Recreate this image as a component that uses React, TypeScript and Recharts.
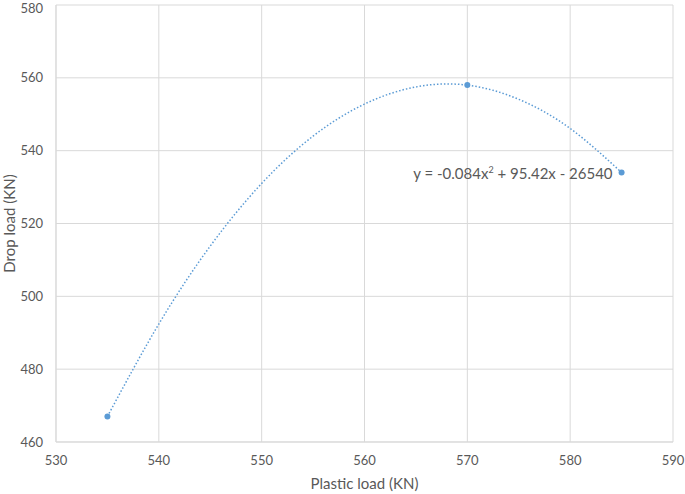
import {
  ComposedChart,
  Scatter,
  Line,
  XAxis,
  YAxis,
  CartesianGrid,
  ReferenceDot,
  Label,
} from 'recharts';

// measured points
const plasticLoad = [535, 570, 585];
const dropLoad = [467, 558, 534];

// dotted polynomial trendline, every 5 KN
const trendX = [535, 540, 545, 550, 555, 560, 565, 570, 575, 580, 585];
const trendY = [467, 492.4, 513.8, 531, 544, 552.8, 557.5, 558, 554.1, 546.1, 534];

const xTicks = [530, 540, 550, 560, 570, 580, 590];
const yTicks = [460, 480, 500, 520, 540, 560, 580];

const EQUATION = ['y = -0.084x', '2', ' + 95.42x - 26540'];

const FONT = 'Lato, "Open Sans", sans-serif';
const TEXT = '#595959';
const GRID = '#d9d9d9';
const BLUE = '#5b9bd5';

const points = plasticLoad.map((x, i) => ({ x, y: dropLoad[i] }));
const trend = trendX.map((x, i) => ({ x, y: trendY[i] }));

export default function App() {
  return (
    <div style={{ position: 'absolute', left: 0, top: 0, background: '#fff' }}>
      <ComposedChart
        width={685}
        height={494}
        margin={{ top: 5, right: 12, bottom: 0, left: 0 }}
      >
        <CartesianGrid stroke={GRID} horizontalValues={yTicks} verticalValues={xTicks} />
        <XAxis
          type="number"
          dataKey="x"
          domain={[530, 590]}
          ticks={xTicks}
          height={52}
          tickLine={false}
          tickSize={0}
          tickMargin={14}
          axisLine={{ stroke: GRID }}
          tick={{ fill: TEXT, fontSize: 13, fontFamily: FONT }}
        >
          <Label
            content={({ viewBox }: any) => (
              <text
                x={viewBox.x + viewBox.width / 2}
                y={489}
                textAnchor="middle"
                fill={TEXT}
                fontSize={15}
                fontFamily={FONT}
              >
                Plastic load (KN)
              </text>
            )}
          />
        </XAxis>
        <YAxis
          type="number"
          dataKey="y"
          domain={[460, 580]}
          ticks={yTicks}
          width={56}
          tickLine={false}
          tickSize={0}
          tickMargin={13}
          axisLine={{ stroke: GRID }}
          tick={{ fill: TEXT, fontSize: 13, fontFamily: FONT }}
        >
          <Label
            content={({ viewBox }: any) => {
              const cy = viewBox.y + viewBox.height / 2;
              return (
                <text
                  x={15}
                  y={cy}
                  transform={`rotate(-90 15 ${cy})`}
                  textAnchor="middle"
                  fill={TEXT}
                  fontSize={15}
                  fontFamily={FONT}
                >
                  Drop load (KN)
                </text>
              );
            }}
          />
        </YAxis>
        <Line
          data={trend}
          dataKey="y"
          type="natural"
          stroke={BLUE}
          strokeWidth={1.5}
          strokeDasharray="1.5 2"
          dot={false}
          activeDot={false}
          isAnimationActive={false}
        />
        <Scatter
          data={points}
          fill={BLUE}
          shape={(p: any) => <circle cx={p.cx} cy={p.cy} r={3} fill={BLUE} />}
          isAnimationActive={false}
        />
        <ReferenceDot
          x={plasticLoad[2]}
          y={dropLoad[2]}
          r={0}
          stroke="none"
          label={({ viewBox }: any) => (
            <text
              x={viewBox.x - 9}
              y={viewBox.y + 6}
              textAnchor="end"
              fill={TEXT}
              fontSize={15}
              fontFamily={FONT}
            >
              {EQUATION[0]}
              <tspan fontSize={9} dy={-6}>{EQUATION[1]}</tspan>
              <tspan dy={6}>{EQUATION[2]}</tspan>
            </text>
          )}
        />
      </ComposedChart>
    </div>
  );
}
